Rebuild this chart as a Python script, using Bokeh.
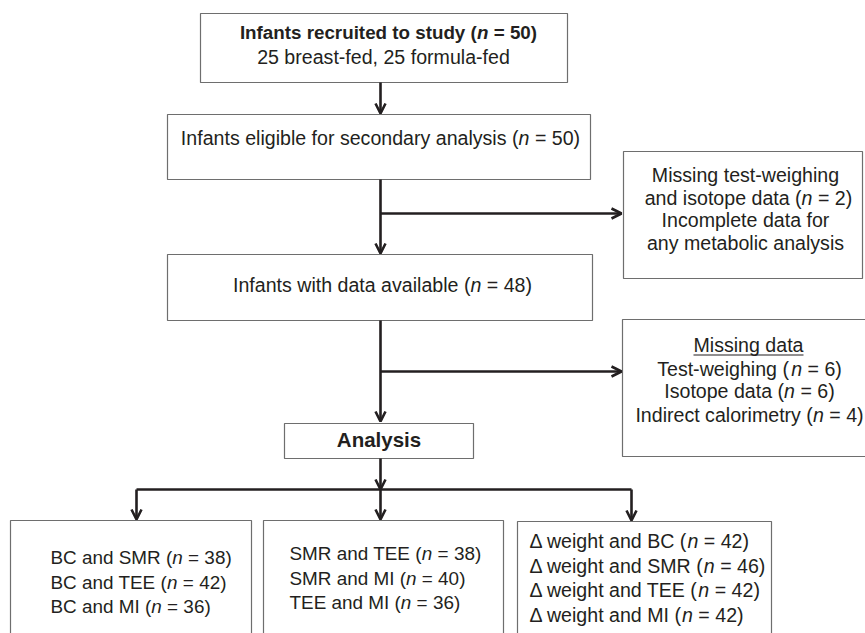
from bokeh.plotting import figure
from bokeh.models import Range1d, Arrow, OpenHead
from bokeh.embed import file_html
from bokeh.resources import INLINE
from bokeh.core.properties import value

# ---------------- data (texts and counts of the flow chart) ----------------
recruited_title = "Infants recruited to study"
recruited_n = 50
recruited_split = "25 breast-fed, 25 formula-fed"
eligible_label = "Infants eligible for secondary analysis"
eligible_n = 50
excluded_lines = ["Missing test-weighing", "and isotope data", "Incomplete data for", "any metabolic analysis"]
excluded_n = 2
available_label = "Infants with data available"
available_n = 48
missing_title = "Missing data"
missing_items = ["Test-weighing", "Isotope data", "Indirect calorimetry"]
missing_n = [6, 6, 4]
analysis_label = "Analysis"
group1_labels = ["BC and SMR", "BC and TEE", "BC and MI"]
group1_n = [38, 42, 36]
group2_labels = ["SMR and TEE", "SMR and MI", "TEE and MI"]
group2_n = [38, 40, 36]
group3_labels = ["\u0394 weight and BC", "\u0394 weight and SMR", "\u0394 weight and TEE", "\u0394 weight and MI"]
group3_n = [42, 46, 42, 42]

# ---------------- styling ----------------
FONT = "Liberation Sans"
FS = 19.6
FS_SMALL = 18.9
TXT = "#231f20"
LINE = "#231f20"
BORDER = "#6e6e6e"
TEXT_DY = -8  # vertical correction for text placement

# Arial / Liberation Sans advance widths (1/1000 em)
REG = {' ': 278, '(': 333, ')': 333, '=': 584, ',': 278, '-': 333, '.': 278,
       'A': 667, 'B': 667, 'C': 722, 'D': 722, 'E': 667, 'F': 611, 'G': 778, 'H': 722, 'I': 278,
       'J': 500, 'K': 667, 'L': 556, 'M': 833, 'N': 722, 'O': 778, 'P': 667, 'Q': 778, 'R': 722,
       'S': 667, 'T': 611, 'U': 722, 'V': 667, 'W': 944, 'X': 667, 'Y': 667, 'Z': 611,
       'a': 556, 'b': 556, 'c': 500, 'd': 556, 'e': 556, 'f': 278, 'g': 556, 'h': 556, 'i': 222,
       'j': 222, 'k': 500, 'l': 222, 'm': 833, 'n': 556, 'o': 556, 'p': 556, 'q': 556, 'r': 333,
       's': 500, 't': 278, 'u': 556, 'v': 500, 'w': 722, 'x': 500, 'y': 500, 'z': 500,
       '\u0394': 668}
for d in "0123456789":
    REG[d] = 556
BOLD = dict(REG)
BOLD.update({'A': 722, 'B': 722, 'b': 611, 'c': 556, 'd': 611, 'f': 333, 'g': 611, 'h': 611,
             'i': 278, 'j': 278, 'k': 556, 'l': 278, 'm': 889, 'n': 611, 'o': 611, 'p': 611,
             'q': 611, 'r': 389, 's': 556, 't': 333, 'u': 611, 'v': 556, 'w': 778, 'x': 556,
             'y': 556, '(': 333, ')': 333})


def tw(s, style, size):
    table = BOLD if "bold" in style else REG
    return sum(table.get(ch, 556) for ch in s) / 1000.0 * size


texts = {}


def put_line(parts, y, cx=None, lx=None, size=FS):
    total = sum(tw(s, st, size) for s, st in parts)
    x = (cx - total / 2.0) if lx is None else lx
    x0 = x
    for s, st in parts:
        lead = len(s) - len(s.lstrip(" "))
        xs = x + tw(s[:lead], st, size)
        d = texts.setdefault((st, size), dict(x=[], y=[], text=[]))
        d["x"].append(xs)
        d["y"].append(y + TEXT_DY)
        d["text"].append(s.strip(" "))
        x += tw(s, st, size)
    return x0, x


def n_parts(label, n, bold=False):
    st = "bold" if bold else "normal"
    return [(label + " (", st), ("n", "bold italic" if bold else "italic"), (" = %d)" % n, st)]


# ---------------- figure (coordinates = pixels of the chart page) ----------------
W, H = 865, 633
p = figure(width=W, height=H, output_backend="svg", toolbar_location=None,
           x_range=Range1d(0, W), y_range=Range1d(H, 0),
           x_axis_type=None, y_axis_type=None,
           min_border=0, min_border_left=0, min_border_right=0,
           min_border_top=0, min_border_bottom=0)
p.grid.visible = False
p.outline_line_color = None
p.background_fill_color = "white"
p.border_fill_color = "white"

# boxes: left, right, top, bottom
boxes = [
    (200, 567, 13, 82),      # recruited
    (167, 590, 114, 179),    # eligible
    (623, 862, 151, 278),    # excluded
    (167, 592, 254, 320),    # available
    (622, 890, 319, 456),    # missing
    (284, 473, 423, 458),    # analysis
    (10, 251, 520, 700),     # group 1
    (263, 503, 520, 700),    # group 2
    (517, 771, 521, 700),    # group 3
]
p.quad(left=[b[0] for b in boxes], right=[b[1] for b in boxes],
       top=[b[2] for b in boxes], bottom=[b[3] for b in boxes],
       fill_color="white", line_color=BORDER, line_width=1.2)

# connectors
CX = 380
p.segment(x0=[136], y0=[489], x1=[631], y1=[489], line_color=LINE, line_width=2.6)
arrows = [
    (CX, 82, CX, 113),
    (CX, 179, CX, 253),
    (CX, 213, 621, 213),
    (CX, 320, CX, 421),
    (CX, 371, 621, 371),
    (CX, 458, CX, 489),
    (136, 489, 136, 519),
    (CX, 489, CX, 519),
    (631, 489, 631, 520),
]
for x0, y0, x1, y1 in arrows:
    p.add_layout(Arrow(end=OpenHead(size=10, line_width=2.6, line_color=LINE),
                       x_start=x0, y_start=y0, x_end=x1, y_end=y1,
                       line_color=LINE, line_width=2.6))

# texts
put_line(n_parts(recruited_title, recruited_n, bold=True), 40, cx=388, size=18.8)
put_line([(recruited_split, "normal")], 64, cx=383)
put_line(n_parts(eligible_label, eligible_n), 145, cx=380)
put_line(n_parts(available_label, available_n), 292, cx=382)

exc_base = [182, 205, 227, 250]
for i, line in enumerate(excluded_lines):
    if i == 1:
        put_line(n_parts(line, excluded_n), exc_base[i], cx=748)
    else:
        put_line([(line, "normal")], exc_base[i], cx=745)

mis_base = [352, 376, 398, 422]
x0u, x1u = put_line([(missing_title, "normal")], mis_base[0], cx=748)
p.segment(x0=[x0u], y0=[mis_base[0] + 2.5], x1=[x1u], y1=[mis_base[0] + 2.5],
          line_color=TXT, line_width=1.2)
for i, (lab, n) in enumerate(zip(missing_items, missing_n)):
    put_line(n_parts(lab, n), mis_base[i + 1], cx=749)

put_line([(analysis_label, "bold")], 447, cx=378.5, size=20.5)

for lab, n, yb in zip(group1_labels, group1_n, [565, 590, 614]):
    put_line(n_parts(lab, n), yb, lx=50, size=FS_SMALL)
for lab, n, yb in zip(group2_labels, group2_n, [561, 586, 610]):
    put_line(n_parts(lab, n), yb, lx=289, size=FS_SMALL)
for lab, n, yb in zip(group3_labels, group3_n, [548, 573, 597, 622]):
    put_line(n_parts(lab, n), yb, lx=529)

for (st, size), d in texts.items():
    p.text(x=d["x"], y=d["y"], text=d["text"], text_font=value(FONT),
           text_font_size="%.1fpx" % size, text_font_style=st, text_color=TXT,
           text_align="left", text_baseline="alphabetic")

open("out.html", "w").write(file_html(p, INLINE))
